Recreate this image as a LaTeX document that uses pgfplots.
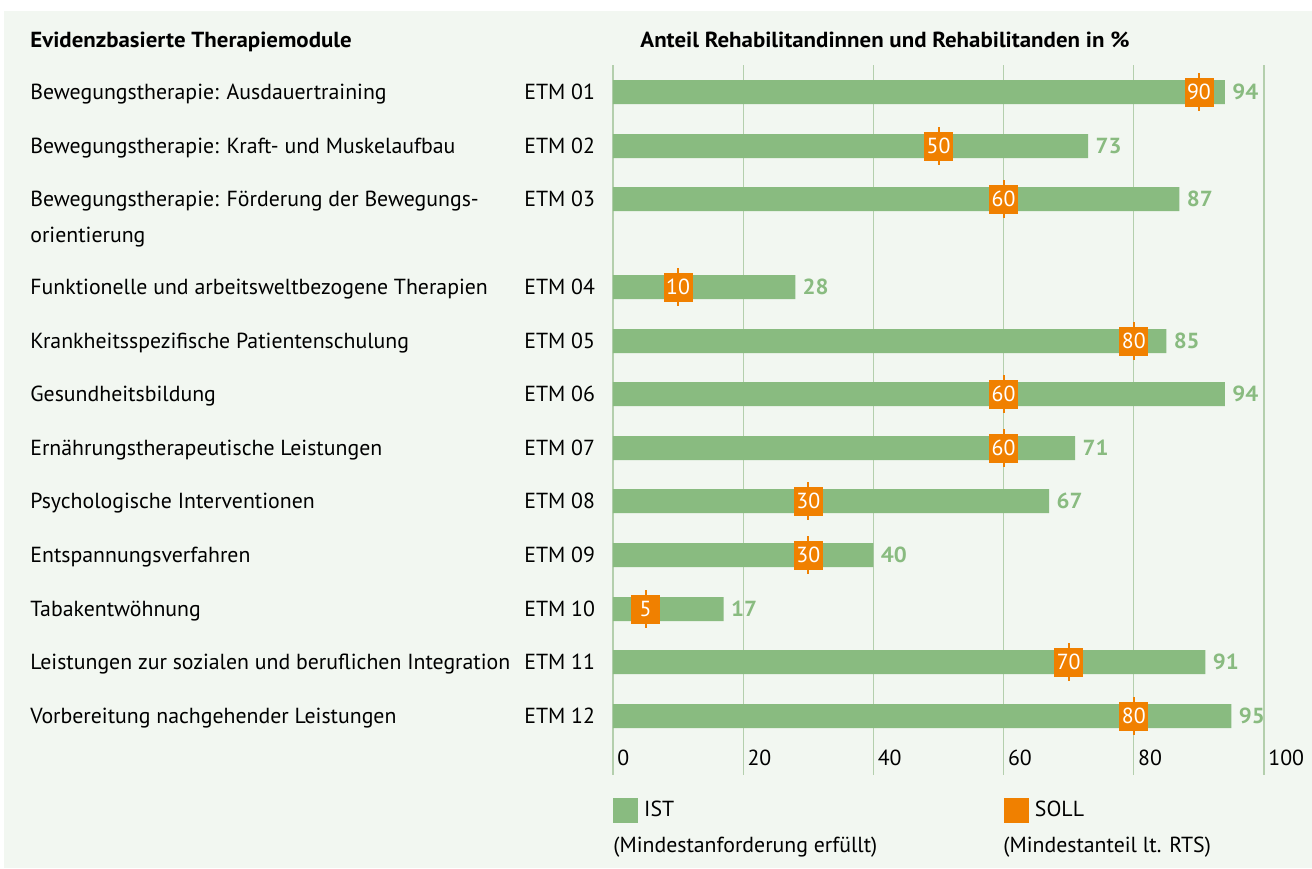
\documentclass[border=0pt]{standalone}
\usepackage{fontspec}
\setmainfont{PT Sans}[BoldFeatures={FakeStretch=1.05}]
\usepackage{pgfplots}
\pgfplotsset{compat=1.18}
\definecolor{ist}{HTML}{89BB80}
\definecolor{soll}{HTML}{F08000}
\definecolor{bg}{HTML}{F2F7F1}
\definecolor{gridc}{HTML}{B4CFAD}
\newcommand{\lab}[2]{\makebox[247pt][l]{#1}#2}
\begin{document}
\fontsize{10.9}{13}\selectfont
\begin{tikzpicture}
\fill[white] (0,0) rectangle (656pt,-434pt);
\fill[bg] (4*0.5pt,-11*0.5pt) rectangle (656pt,-434pt);
\node[anchor=base west, inner sep=0pt, font=\bfseries] at (30*0.5pt,-47*0.5pt) {Evidenzbasierte Therapiemodule};
\node[anchor=base west, inner sep=0pt, font=\bfseries] at (640*0.5pt,-47*0.5pt) {Anteil Rehabilitandinnen und Rehabilitanden in \%};
\begin{axis}[
  at={(613*0.5pt,-775*0.5pt)}, anchor=south west,
  scale only axis, width=325.5pt, height=355pt,
  xmin=0, xmax=100, ymin=65, ymax=775, y dir=reverse,
  axis line style={draw=none},
  major tick length=0pt,
  xtick={0,20,...,100}, xmajorgrids, grid style={gridc, line width=0.6pt},
  xticklabel style={anchor=west, yshift=8.5pt, xshift=2pt, inner sep=0pt},
  /pgf/number format/assume math mode=true,
  ytick={92,146,199,287,341,394,448,501,555,609,662,716},
  yticklabels={
    {\lab{Bewegungstherapie: Ausdauertraining}{ETM 01}},
    {\lab{Bewegungstherapie: Kraft- und Muskelaufbau}{ETM 02}},
    {\lab{\parbox[t]{245pt}{Bewegungstherapie: Förderung der Bewegungs-\\[5pt]orientierung}}{ETM 03}},
    {\lab{Funktionelle und arbeitsweltbezogene Therapien}{ETM 04}},
    {\lab{Krankheitsspezifische Patientenschulung}{ETM 05}},
    {\lab{Gesundheitsbildung}{ETM 06}},
    {\lab{Ernährungstherapeutische Leistungen}{ETM 07}},
    {\lab{Psychologische Interventionen}{ETM 08}},
    {\lab{Entspannungsverfahren}{ETM 09}},
    {\lab{Tabakentwöhnung}{ETM 10}},
    {\lab{Leistungen zur sozialen und beruflichen Integration}{ETM 11}},
    {\lab{Vorbereitung nachgehender Leistungen}{ETM 12}}},
  yticklabel style={anchor=base west, xshift=-291.5pt, yshift=-3.7pt, inner sep=0pt},
  clip=false,
  legend style={at={(0,-0.0324)}, anchor=north west, draw=none, fill=none,
    inner sep=0pt, column sep=0pt, nodes={inner sep=0pt}},
  legend columns=2, legend cell align=left,
]
\addplot[xbar, bar width=12pt, bar shift=0pt, fill=ist, draw=none, forget plot,
  nodes near coords, point meta=explicit symbolic,
  every node near coord/.append style={font=\bfseries, text=ist, inner sep=0pt, xshift=3.5pt, anchor=west}]
  coordinates {(94,92)[94] (73,146)[73] (87,199)[87] (28,287)[28] (85,341)[85] (94,394)[94]
               (71,448)[71] (67,501)[67] (40,555)[40] (17,609)[17] (91,662)[91] (95,716)[95]};
\addplot[only marks, mark=|, mark size=9.5pt, mark options={draw=soll, line width=1pt}, forget plot]
  coordinates {(90,92) (50,146) (60,199) (10,287) (80,341) (60,394)
               (60,448) (30,501) (30,555) (5,609) (70,662) (80,716)};
\addplot[only marks, color=soll, mark=square*, mark size=7pt, mark options={draw=soll, fill=soll}, forget plot,
  nodes near coords, point meta=explicit symbolic,
  every node near coord/.append style={anchor=center, text=white, inner sep=0pt}]
  coordinates {(90,92)[90] (50,146)[50] (60,199)[60] (10,287)[10] (80,341)[80] (60,394)[60]
               (60,448)[60] (30,501)[30] (30,555)[30] (5,609)[5] (70,662)[70] (80,716)[80]};
\addlegendimage{legend image code/.code={\fill[ist] (0pt,-6pt) rectangle (12pt,6pt); \path (15pt,0pt);}}
\addlegendentry{\makebox[180pt][l]{IST}}
\addlegendimage{legend image code/.code={\fill[soll] (0pt,-6pt) rectangle (12pt,6pt); \path (15pt,0pt);}}
\addlegendentry{SOLL}
\end{axis}
\node[anchor=base west, inner sep=0pt] at (613*0.5pt,-852*0.5pt) {(Mindestanforderung erfüllt)};
\node[anchor=base west, inner sep=0pt] at (1003*0.5pt,-852*0.5pt) {(Mindestanteil lt. RTS)};
\pgfresetboundingbox
\path (0,0) rectangle (656pt,-434pt);
\end{tikzpicture}
\end{document}
